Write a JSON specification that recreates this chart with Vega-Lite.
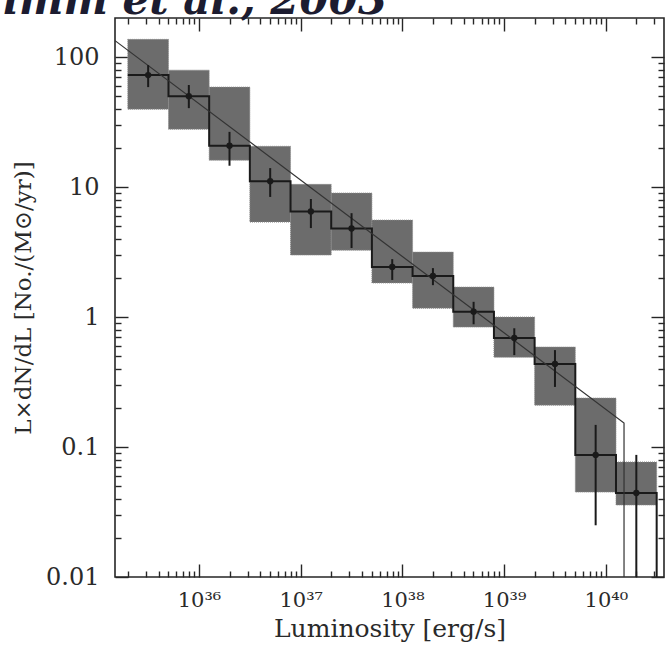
{
  "$schema": "https://vega.github.io/schema/vega-lite/v6.json",
  "width": 549,
  "height": 559,
  "autosize": "none",
  "padding": {"left": 115, "top": 18, "right": 7, "bottom": 69},
  "background": "white",
  "title": {"text": "Grimm et al., 2003", "anchor": "start", "frame": "group", "fontSize": 42, "font": "DejaVu Serif", "fontStyle": "italic", "fontWeight": "bold", "color": "#1c1c30", "offset": 0, "dx": -170, "dy": 39, "baseline": "alphabetic"},
  "config": {
    "view": {"stroke": "#262626", "strokeWidth": 1.6},
    "axis": {"domain": false, "grid": false, "labelFont": "DejaVu Serif", "titleFont": "DejaVu Serif", "labelColor": "#2a2a2a", "titleColor": "#2a2a2a", "tickColor": "#262626", "tickWidth": 1.4, "labelFlush": false, "labelOverlap": false, "labelBound": false, "titleFontWeight": "normal"}
  },
  "datasets": {
    "bins": [
      {"lo": 1.995e35, "hi": 5.012e35, "c": 3.162e35, "val": 72.7, "boxLo": 39.8, "boxHi": 137, "errLo": 58.8, "errHi": 86.8},
      {"lo": 5.012e35, "hi": 1.259e36, "c": 7.943e35, "val": 50, "boxLo": 27.9, "boxHi": 79.4, "errLo": 40.5, "errHi": 61},
      {"lo": 1.259e36, "hi": 3.162e36, "c": 1.995e36, "val": 20.8, "boxLo": 16.1, "boxHi": 58.8, "errLo": 14.6, "errHi": 26.6},
      {"lo": 3.162e36, "hi": 7.943e36, "c": 5.012e36, "val": 11.1, "boxLo": 5.38, "boxHi": 20.6, "errLo": 8.4, "errHi": 14.0},
      {"lo": 7.943e36, "hi": 1.995e37, "c": 1.259e37, "val": 6.5, "boxLo": 3.0, "boxHi": 10.5, "errLo": 4.84, "errHi": 8.1},
      {"lo": 1.995e37, "hi": 5.012e37, "c": 3.162e37, "val": 4.8, "boxLo": 3.27, "boxHi": 9.0, "errLo": 3.4, "errHi": 6.3},
      {"lo": 5.012e37, "hi": 1.259e38, "c": 7.943e37, "val": 2.43, "boxLo": 1.83, "boxHi": 5.57, "errLo": 1.93, "errHi": 2.79},
      {"lo": 1.259e38, "hi": 3.162e38, "c": 1.995e38, "val": 2.07, "boxLo": 1.17, "boxHi": 3.16, "errLo": 1.76, "errHi": 2.38},
      {"lo": 3.162e38, "hi": 7.943e38, "c": 5.012e38, "val": 1.10, "boxLo": 0.837, "boxHi": 1.70, "errLo": 0.88, "errHi": 1.31},
      {"lo": 7.943e38, "hi": 1.995e39, "c": 1.259e39, "val": 0.69, "boxLo": 0.49, "boxHi": 1.0, "errLo": 0.51, "errHi": 0.82},
      {"lo": 1.995e39, "hi": 5.012e39, "c": 3.162e39, "val": 0.436, "boxLo": 0.21, "boxHi": 0.588, "errLo": 0.29, "errHi": 0.557},
      {"lo": 5.012e39, "hi": 1.259e40, "c": 7.943e39, "val": 0.087, "boxLo": 0.045, "boxHi": 0.238, "errLo": 0.025, "errHi": 0.148},
      {"lo": 1.259e40, "hi": 3.162e40, "c": 1.995e40, "val": 0.0443, "boxLo": 0.0358, "boxHi": 0.0767, "errLo": 0.01, "errHi": 0.087}
    ],
    "step": [
      {"L": 1.995e35, "v": 72.7}, {"L": 5.012e35, "v": 50}, {"L": 1.259e36, "v": 20.8}, {"L": 3.162e36, "v": 11.1},
      {"L": 7.943e36, "v": 6.5}, {"L": 1.995e37, "v": 4.8}, {"L": 5.012e37, "v": 2.43}, {"L": 1.259e38, "v": 2.07},
      {"L": 3.162e38, "v": 1.10}, {"L": 7.943e38, "v": 0.69}, {"L": 1.995e39, "v": 0.436}, {"L": 5.012e39, "v": 0.087},
      {"L": 1.259e40, "v": 0.0443}, {"L": 3.162e40, "v": 0.01}
    ],
    "fit": [
      {"ord": 1, "L": 1.493e35, "v": 134},
      {"ord": 2, "L": 1.51e40, "v": 0.153},
      {"ord": 3, "L": 1.51e40, "v": 0.01}
    ]
  },
  "resolve": {"axis": {"x": "independent", "y": "independent"}},
  "layer": [
    {
      "data": {"name": "bins"},
      "mark": {"type": "rect", "fill": "#6c6c6c", "stroke": "#8a8a8a", "strokeWidth": 1, "strokeDash": [1, 1]},
      "encoding": {
        "x": {"field": "lo", "type": "quantitative", "scale": {"type": "log", "domain": [1.493e35, 3.733e40], "nice": false},
          "axis": {"orient": "bottom", "values": [1e36, 1e37, 1e38, 1e39, 1e40], "ticks": false, "tickSize": 0, "labelPadding": 12, "labelFontSize": 21,
            "labelExpr": "'10' + (datum.value < 5e36 ? '³⁶' : datum.value < 5e37 ? '³⁷' : datum.value < 5e38 ? '³⁸' : datum.value < 5e39 ? '³⁹' : '⁴⁰')",
            "title": "Luminosity [erg/s]", "titleFontSize": 25, "titlePadding": 6}},
        "x2": {"field": "hi"},
        "y": {"field": "boxLo", "type": "quantitative", "scale": {"type": "log", "domain": [0.01, 200], "nice": false},
          "axis": {"orient": "left", "values": [0.01, 0.1, 1, 10, 100], "format": "~g", "ticks": false, "tickSize": 0, "labelPadding": 16, "labelFontSize": 24,
            "title": "L×dN/dL [No./(M⊙/yr)]", "titleFontSize": 23, "titlePadding": 10}},
        "y2": {"field": "boxHi"}
      }
    },
    {
      "data": {"name": "step"},
      "mark": {"type": "line", "interpolate": "step-after", "color": "#1a1a1a", "strokeWidth": 2},
      "encoding": {
        "x": {"field": "L", "type": "quantitative", "scale": {"type": "log", "domain": [1.493e35, 3.733e40], "nice": false},
          "axis": {"orient": "bottom", "values": [1e36, 1e37, 1e38, 1e39, 1e40], "labels": false, "tickSize": -13, "title": null}},
        "y": {"field": "v", "type": "quantitative", "scale": {"type": "log", "domain": [0.01, 200], "nice": false},
          "axis": {"orient": "left", "values": [0.01, 0.1, 1, 10, 100], "labels": false, "tickSize": -13, "title": null}}
      }
    },
    {
      "data": {"name": "fit"},
      "mark": {"type": "line", "color": "#333333", "strokeWidth": 1.2},
      "encoding": {
        "x": {"field": "L", "type": "quantitative", "scale": {"type": "log", "domain": [1.493e35, 3.733e40], "nice": false},
          "axis": {"orient": "bottom", "values": [2e35, 3e35, 4e35, 5e35, 6e35, 7e35, 8e35, 9e35, 2e36, 3e36, 4e36, 5e36, 6e36, 7e36, 8e36, 9e36, 2e37, 3e37, 4e37, 5e37, 6e37, 7e37, 8e37, 9e37, 2e38, 3e38, 4e38, 5e38, 6e38, 7e38, 8e38, 9e38, 2e39, 3e39, 4e39, 5e39, 6e39, 7e39, 8e39, 9e39, 2e40, 3e40], "labels": false, "tickSize": -6, "title": null}},
        "y": {"field": "v", "type": "quantitative", "scale": {"type": "log", "domain": [0.01, 200], "nice": false},
          "axis": {"orient": "left", "values": [0.02, 0.03, 0.04, 0.05, 0.06, 0.07, 0.08, 0.09, 0.2, 0.3, 0.4, 0.5, 0.6, 0.7, 0.8, 0.9, 2, 3, 4, 5, 6, 7, 8, 9, 20, 30, 40, 50, 60, 70, 80, 90], "labels": false, "tickSize": -6, "title": null}},
        "order": {"field": "ord", "type": "quantitative"}
      }
    },
    {
      "data": {"name": "bins"},
      "mark": {"type": "rule", "color": "#1a1a1a", "strokeWidth": 2},
      "encoding": {
        "x": {"field": "c", "type": "quantitative", "scale": {"type": "log", "domain": [1.493e35, 3.733e40], "nice": false},
          "axis": {"orient": "top", "values": [1e36, 1e37, 1e38, 1e39, 1e40], "labels": false, "tickSize": -13, "title": null}},
        "y": {"field": "errLo", "type": "quantitative", "scale": {"type": "log", "domain": [0.01, 200], "nice": false},
          "axis": {"orient": "right", "values": [0.01, 0.1, 1, 10, 100], "labels": false, "tickSize": -13, "title": null}},
        "y2": {"field": "errHi"}
      }
    },
    {
      "data": {"name": "bins"},
      "mark": {"type": "circle", "color": "#1a1a1a", "opacity": 1, "size": 40},
      "encoding": {
        "x": {"field": "c", "type": "quantitative", "scale": {"type": "log", "domain": [1.493e35, 3.733e40], "nice": false},
          "axis": {"orient": "top", "values": [2e35, 3e35, 4e35, 5e35, 6e35, 7e35, 8e35, 9e35, 2e36, 3e36, 4e36, 5e36, 6e36, 7e36, 8e36, 9e36, 2e37, 3e37, 4e37, 5e37, 6e37, 7e37, 8e37, 9e37, 2e38, 3e38, 4e38, 5e38, 6e38, 7e38, 8e38, 9e38, 2e39, 3e39, 4e39, 5e39, 6e39, 7e39, 8e39, 9e39, 2e40, 3e40], "labels": false, "tickSize": -6, "title": null}},
        "y": {"field": "val", "type": "quantitative", "scale": {"type": "log", "domain": [0.01, 200], "nice": false},
          "axis": {"orient": "right", "values": [0.02, 0.03, 0.04, 0.05, 0.06, 0.07, 0.08, 0.09, 0.2, 0.3, 0.4, 0.5, 0.6, 0.7, 0.8, 0.9, 2, 3, 4, 5, 6, 7, 8, 9, 20, 30, 40, 50, 60, 70, 80, 90], "labels": false, "tickSize": -6, "title": null}}
      }
    }
  ]
}
